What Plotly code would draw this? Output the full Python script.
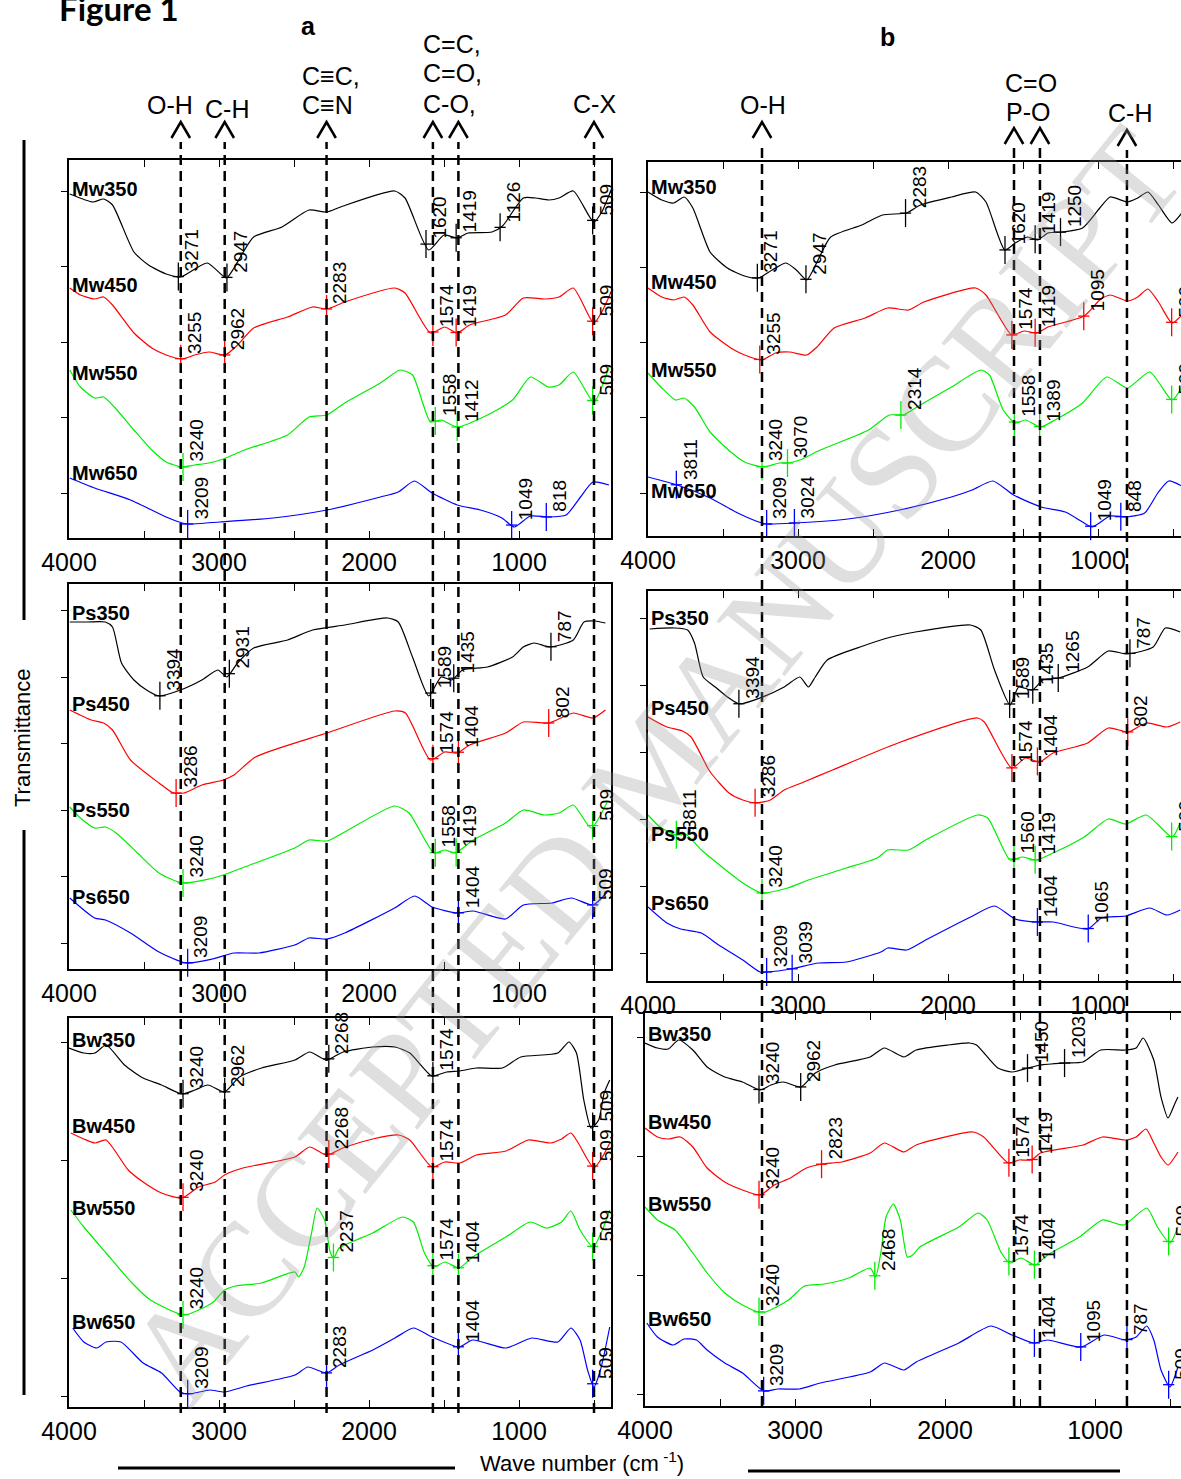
import numpy as np
import plotly.graph_objects as go

# ---------------------------------------------------------------
# FTIR spectra, (wavenumber cm-1, transmittance a.u.) per sample
# panel a
# ---------------------------------------------------------------
A_MW350 = [(3995, 344), (3840, 336), (3769, 339), (3710, 333), (3567, 286), (3470, 273), (3352, 264), (3257, 261),
           (3079, 275), (2950, 260), (2900, 270), (2769, 301), (2580, 311), (2400, 328), (2281, 326), (2190, 331),
           (1829, 347), (1760, 340), (1602, 288), (1500, 303), (1412, 300), (1340, 305), (1180, 306), (1110, 312),
           (971, 340), (890, 340), (800, 338), (733, 340), (638, 347), (502, 316), (448, 326), (381, 350)]
A_MW450 = [(3995, 250), (3924, 243), (3829, 239), (3769, 241), (3710, 233), (3567, 205), (3448, 190), (3352, 183),
           (3245, 179), (3162, 183), (3067, 186), (2960, 183), (2876, 193), (2769, 210), (2543, 221), (2376, 231),
           (2281, 229), (2162, 236), (1829, 250), (1760, 245), (1590, 205), (1495, 211), (1412, 205), (1329, 213),
           (1090, 223), (971, 240), (829, 239), (733, 241), (638, 250), (502, 215), (448, 226), (381, 248)]
A_MW550 = [(3995, 168), (3924, 151), (3829, 140), (3769, 141), (3698, 131), (3567, 108), (3448, 88), (3352, 76),
           (3245, 71), (3162, 73), (3067, 75), (2971, 79), (2829, 88), (2543, 103), (2400, 121), (2281, 123),
           (2162, 135), (1924, 155), (1793, 168), (1710, 163), (1590, 116), (1519, 118), (1412, 111), (1210, 123),
           (1043, 138), (924, 161), (805, 151), (733, 153), (638, 166), (502, 136), (400, 171)]
A_MW650 = [(3995, 60), (3829, 50), (3590, 38), (3352, 21), (3245, 15), (3209, 14), (2995, 16), (2638, 20),
           (2281, 28), (1924, 41), (1805, 46), (1698, 57), (1579, 45), (1412, 33), (1257, 28), (1114, 20),
           (1031, 11), (924, 22), (805, 21), (686, 23), (590, 41), (507, 56), (400, 53)]

A_PS350 = [(3995, 347), (3876, 347), (3757, 347), (3710, 342), (3650, 306), (3567, 289), (3483, 279), (3400, 273),
           (3257, 279), (3114, 289), (3007, 299), (2948, 292), (2876, 306), (2769, 321), (2543, 329), (2376, 339),
           (2162, 344), (1876, 351), (1805, 347), (1710, 312), (1602, 273), (1519, 292), (1448, 289), (1376, 299),
           (1210, 302), (1043, 312), (971, 322), (900, 326), (793, 322), (638, 329), (567, 347), (495, 348), (424, 346)]
A_PS450 = [(3995, 259), (3852, 249), (3769, 246), (3710, 239), (3590, 209), (3400, 186), (3305, 176), (3233, 176),
           (3114, 184), (2971, 189), (2900, 194), (2757, 212), (2281, 236), (1829, 258), (1757, 256), (1590, 209),
           (1495, 217), (1412, 216), (1329, 224), (1090, 236), (971, 247), (802, 246), (638, 256), (507, 251), (424, 259)]
A_PS550 = [(3995, 162), (3924, 151), (3829, 141), (3757, 142), (3686, 136), (3543, 116), (3400, 96), (3245, 86),
           (3067, 90), (2971, 94), (2829, 102), (2495, 121), (2400, 129), (2281, 128), (2162, 137), (1829, 163),
           (1733, 156), (1567, 116), (1495, 119), (1424, 116), (1305, 129), (1090, 146), (971, 159), (829, 154),
           (733, 156), (638, 164), (519, 141), (412, 167)]
A_PS650 = [(3995, 71), (3829, 51), (3757, 49), (3590, 36), (3400, 17), (3221, 6), (3043, 10), (2900, 16),
           (2733, 16), (2495, 24), (2400, 31), (2281, 30), (2162, 36), (1829, 61), (1695, 73), (1579, 62),
           (1412, 56), (1305, 58), (1090, 50), (971, 64), (781, 66), (650, 71), (507, 64), (412, 77)]

A_BW350 = [(4000, 359), (3901, 354), (3827, 354), (3753, 362), (3630, 342), (3506, 329), (3383, 322), (3247, 313),
           (3160, 317), (3074, 322), (2963, 315), (2864, 330), (2716, 339), (2494, 347), (2395, 355), (2284, 347),
           (2173, 355), (1975, 360), (1827, 360), (1728, 354), (1580, 331), (1482, 335), (1395, 336), (1284, 339),
           (1111, 339), (988, 350), (741, 354), (667, 365), (617, 354), (568, 307), (519, 279), (469, 287),
           (432, 314), (395, 327)]
A_BW450 = [(3988, 274), (3901, 268), (3827, 264), (3753, 267), (3605, 237), (3506, 225), (3383, 214), (3247, 209),
           (3136, 220), (3025, 225), (2963, 232), (2840, 239), (2494, 250), (2395, 260), (2284, 252), (2173, 259),
           (1975, 268), (1802, 272), (1728, 267), (1580, 240), (1494, 245), (1395, 244), (1284, 252), (1087, 256),
           (938, 267), (790, 264), (716, 268), (654, 274), (605, 264), (501, 239), (444, 250), (395, 264)]
A_BW550 = [(3988, 197), (3901, 180), (3753, 154), (3580, 124), (3457, 107), (3235, 92), (3136, 97), (3037, 105),
           (2963, 117), (2889, 121), (2716, 124), (2494, 135), (2469, 130), (2432, 140), (2383, 174), (2346, 199),
           (2296, 187), (2259, 155), (2235, 149), (2198, 159), (1975, 174), (1778, 190), (1704, 185), (1630, 154),
           (1568, 140), (1494, 145), (1400, 139), (1309, 150), (1087, 170), (926, 185), (815, 179), (716, 185),
           (654, 196), (593, 177), (506, 160), (444, 177), (395, 197)]
A_BW650 = [(3975, 79), (3901, 65), (3815, 59), (3753, 65), (3654, 65), (3506, 44), (3383, 34), (3259, 15),
           (3198, 13), (3062, 17), (2963, 15), (2815, 21), (2494, 32), (2407, 40), (2284, 34), (2198, 42),
           (1975, 57), (1827, 69), (1704, 79), (1580, 70), (1400, 60), (1309, 67), (1087, 59), (914, 69),
           (741, 65), (654, 79), (593, 67), (543, 37), (501, 20), (457, 37), (395, 80)]

# panel b
B_MW350 = [(4000, 344), (3908, 336), (3828, 333), (3759, 339), (3701, 328), (3586, 284), (3471, 268), (3356, 260),
           (3264, 258), (3172, 266), (3080, 273), (3011, 266), (2942, 256), (2873, 274), (2782, 299), (2575, 311),
           (2437, 321), (2276, 323), (2184, 331), (1977, 339), (1816, 344), (1747, 334), (1621, 286), (1552, 293),
           (1471, 299), (1402, 296), (1333, 303), (1241, 304), (1103, 308), (988, 328), (919, 339), (804, 334),
           (735, 338), (667, 344), (597, 331), (506, 313), (441, 323)]
B_MW450 = [(4000, 248), (3908, 239), (3828, 236), (3759, 239), (3701, 231), (3586, 204), (3448, 188), (3356, 181),
           (3241, 176), (3149, 183), (3057, 184), (2942, 181), (2873, 189), (2759, 208), (2552, 218), (2402, 228),
           (2264, 226), (2161, 234), (1816, 248), (1747, 241), (1575, 201), (1494, 205), (1407, 203), (1333, 209),
           (1092, 220), (988, 236), (919, 241), (804, 235), (735, 239), (667, 247), (597, 234), (506, 213), (441, 221)]
B_MW550 = [(4000, 163), (3908, 148), (3816, 136), (3759, 138), (3690, 129), (3586, 104), (3448, 84), (3356, 74),
           (3230, 69), (3126, 73), (3069, 73), (2988, 76), (2851, 86), (2529, 106), (2391, 121), (2299, 121),
           (2207, 129), (1977, 149), (1781, 166), (1724, 161), (1632, 126), (1552, 113), (1483, 116), (1384, 109),
           (1287, 116), (1103, 133), (942, 159), (804, 148), (655, 164), (506, 136), (441, 149)]
B_MW650 = [(4000, 59), (3805, 51), (3586, 38), (3402, 23), (3241, 13), (3207, 12), (3023, 13), (2667, 17),
           (2322, 26), (1977, 39), (1839, 46), (1701, 55), (1563, 41), (1379, 29), (1218, 24), (1103, 14),
           (1039, 9), (919, 20), (809, 19), (689, 23), (597, 44), (528, 55), (441, 50)]

B_PS350 = [(3989, 352), (3828, 353), (3736, 351), (3690, 338), (3632, 304), (3552, 294), (3471, 284), (3391, 277),
           (3253, 283), (3092, 294), (2988, 304), (2931, 294), (2885, 304), (2805, 321), (2586, 334), (2379, 344),
           (2218, 349), (1850, 356), (1781, 351), (1690, 311), (1586, 276), (1529, 294), (1437, 291), (1368, 301),
           (1264, 303), (1069, 314), (931, 330), (804, 327), (632, 334), (551, 353), (452, 349)]
B_PS450 = [(4000, 264), (3874, 254), (3770, 250), (3713, 244), (3598, 212), (3575, 207), (3460, 188), (3368, 181),
           (3276, 178), (3184, 181), (3092, 191), (2977, 198), (2770, 211), (2333, 238), (1804, 263), (1758, 259),
           (1575, 213), (1483, 223), (1391, 219), (1299, 228), (1069, 238), (931, 253), (798, 249), (678, 258),
           (540, 254), (452, 259)]
B_PS550 = [(4000, 166), (3920, 154), (3809, 146), (3759, 148), (3644, 131), (3506, 114), (3368, 98), (3241, 88),
           (3069, 93), (2931, 101), (2678, 113), (2471, 123), (2402, 131), (2264, 131), (2149, 141), (1804, 166),
           (1735, 163), (1586, 121), (1506, 124), (1414, 121), (1299, 128), (1092, 144), (931, 162), (816, 157),
           (678, 166), (506, 144), (452, 158)]
B_PS650 = [(4000, 74), (3874, 58), (3782, 52), (3644, 48), (3529, 36), (3368, 21), (3253, 9), (3207, 9),
           (3046, 12), (2862, 18), (2678, 19), (2448, 29), (2402, 33), (2276, 31), (2149, 41), (1850, 64),
           (1690, 75), (1552, 62), (1402, 59), (1299, 59), (1069, 52), (977, 63), (816, 65), (655, 73),
           (540, 66), (452, 71)]

B_BW350 = [(4000, 363), (3917, 358), (3846, 357), (3775, 366), (3681, 356), (3586, 339), (3468, 329), (3350, 324),
           (3232, 316), (3161, 321), (3078, 324), (2960, 319), (2865, 333), (2735, 341), (2499, 349), (2404, 358),
           (2274, 349), (2192, 356), (1979, 361), (1837, 363), (1790, 361), (1648, 338), (1553, 334), (1447, 338),
           (1364, 341), (1199, 343), (1080, 344), (962, 356), (797, 356), (726, 358), (679, 368), (608, 346),
           (560, 309), (513, 288), (466, 303), (447, 309)]
B_BW450 = [(4000, 278), (3917, 269), (3846, 267), (3764, 269), (3681, 259), (3586, 238), (3468, 224), (3350, 216),
           (3232, 211), (3138, 221), (3031, 228), (2924, 238), (2818, 242), (2688, 244), (2499, 253), (2404, 263),
           (2274, 254), (2192, 261), (1813, 274), (1742, 269), (1577, 243), (1506, 246), (1423, 246), (1364, 253),
           (1080, 261), (950, 269), (797, 266), (726, 269), (660, 277), (608, 263), (560, 249), (513, 241), (447, 254)]
B_BW550 = [(4000, 199), (3917, 186), (3799, 176), (3681, 153), (3586, 133), (3468, 113), (3350, 101), (3220, 93),
           (3043, 106), (2936, 120), (2806, 122), (2641, 128), (2499, 138), (2463, 129), (2428, 153), (2393, 189),
           (2345, 202), (2298, 186), (2251, 149), (2215, 151), (2168, 159), (1908, 179), (1778, 193), (1719, 186),
           (1624, 153), (1565, 143), (1494, 148), (1400, 141), (1317, 151), (1104, 169), (950, 186), (809, 181),
           (655, 198), (584, 179), (501, 163), (447, 179)]
B_BW650 = [(3988, 83), (3917, 69), (3811, 61), (3740, 67), (3657, 66), (3586, 56), (3468, 43), (3350, 33),
           (3208, 15), (3114, 17), (2972, 17), (2830, 23), (2499, 34), (2404, 43), (2274, 36), (2192, 44),
           (1908, 63), (1695, 80), (1553, 71), (1407, 63), (1317, 66), (1092, 59), (939, 71), (797, 66),
           (726, 69), (655, 80), (608, 66), (560, 36), (501, 19), (447, 39)]

# labelled band positions (cm-1) for each spectrum
A_MW350_PK = [3271, 2947, 1620, 1419, 1126, 509]
A_MW450_PK = [3255, 2962, 2283, 1574, 1419, 509]
A_MW550_PK = [3240, 1558, 1412, 509]
A_MW650_PK = [3209, 1049, 818]
A_PS350_PK = [3394, 2931, 1589, 1435, 787]
A_PS450_PK = [3286, 1574, 1404, 802]
A_PS550_PK = [3240, 1558, 1419, 509]
A_PS650_PK = [3209, 1404, 509]
A_BW350_PK = [3240, 2962, 2268, 1574, 509]
A_BW450_PK = [3240, 2268, 1574, 509]
A_BW550_PK = [3240, 2237, 1574, 1404, 509]
A_BW650_PK = [3209, 2283, 1404, 509]
B_MW350_PK = [3271, 2947, 2283, 1620, 1419, 1250]
B_MW450_PK = [3255, 1574, 1419, 1095, 509]
B_MW550_PK = [3240, 3070, 2314, 1558, 1389, 509]
B_MW650_PK = [3811, 3209, 3024, 1049, 848]
B_PS350_PK = [3394, 1589, 1435, 1265, 787]
B_PS450_PK = [3286, 1574, 1404, 802]
B_PS550_PK = [3811, 3240, 1560, 1419, 509]
B_PS650_PK = [3209, 3039, 1404, 1065]
B_BW350_PK = [3240, 2962, 1450, 1203]
B_BW450_PK = [3240, 2823, 1574, 1419]
B_BW550_PK = [3240, 2468, 1574, 1404, 509]
B_BW650_PK = [3209, 1404, 1095, 787, 509]

# functional-group guide lines (cm-1)
A_BANDS = [3255, 2962, 2283, 1574, 1404, 500]
B_BANDS = [3240, 1560, 1387, 807]

X_TICKS = [4000, 3500, 3000, 2500, 2000, 1500, 1000, 500]
X_TICK_TEXT = ["4000", "", "3000", "", "2000", "", "1000", ""]

# ---------------------------------------------------------------
# page geometry (pixels)
# ---------------------------------------------------------------
W, H = 1181, 1479
PX_PER_WN = 0.15
FONT = "Arial, Liberation Sans, sans-serif"
COLORS = ["#000000", "#ff0000", "#00ee00", "#0000ff"]


def px(x):
    return x / W


def py(y):
    return 1 - y / H


PANELS = [
    dict(curves=[("Mw350", A_MW350, A_MW350_PK), ("Mw450", A_MW450, A_MW450_PK),
                 ("Mw550", A_MW550, A_MW550_PK), ("Mw650", A_MW650, A_MW650_PK)],
         box=(69, 611, 160, 538), ytick=(45, 75.5), label_y=[349, 253, 165, 65]),
    dict(curves=[("Ps350", A_PS350, A_PS350_PK), ("Ps450", A_PS450, A_PS450_PK),
                 ("Ps550", A_PS550, A_PS550_PK), ("Ps650", A_PS650, A_PS650_PK)],
         box=(69, 611, 584, 969), ytick=(26, 66.5), label_y=[356, 265, 159, 72]),
    dict(curves=[("Bw350", A_BW350, A_BW350_PK), ("Bw450", A_BW450, A_BW450_PK),
                 ("Bw550", A_BW550, A_BW550_PK), ("Bw650", A_BW650, A_BW650_PK)],
         box=(69, 611, 1018, 1407), ytick=(11, 118), label_y=[367, 281, 199, 85]),
    dict(curves=[("Mw350", B_MW350, B_MW350_PK), ("Mw450", B_MW450, B_MW450_PK),
                 ("Mw550", B_MW550, B_MW550_PK), ("Mw650", B_MW650, B_MW650_PK)],
         box=(648, 1181, 162, 536), ytick=(43, 75.2), label_y=[349, 254, 166, 45]),
    dict(curves=[("Ps350", B_PS350, B_PS350_PK), ("Ps450", B_PS450, B_PS450_PK),
                 ("Ps550", B_PS550, B_PS550_PK), ("Ps650", B_PS650, B_PS650_PK)],
         box=(648, 1181, 591, 981), ytick=(28, 67), label_y=[363, 273, 147, 78]),
    dict(curves=[("Bw350", B_BW350, B_BW350_PK), ("Bw450", B_BW450, B_BW450_PK),
                 ("Bw550", B_BW550, B_BW550_PK), ("Bw650", B_BW650, B_BW650_PK)],
         box=(645, 1181, 1013, 1406), ytick=(12, 118.7), label_y=[372, 284, 202, 87]),
]

fig = go.Figure()
annotations = []
shapes = []
axes = {}

# watermark sits beneath every other label
annotations.append(dict(
    text="ACCEPTED MANUSCRIPT", x=px(655), y=py(765), xref="paper", yref="paper",
    textangle=-51, showarrow=False, xanchor="center", yanchor="middle",
    font=dict(family="Liberation Serif, Times New Roman, serif", size=134, color="rgba(150,150,150,0.30)")))

for i, panel in enumerate(PANELS, start=1):
    x0, x1, top, bottom = panel["box"]
    sfx = "" if i == 1 else str(i)
    xname, yname = "x" + sfx, "y" + sfx
    wn_end = 4000 - (x1 - x0) / PX_PER_WN
    axes["xaxis" + sfx] = dict(
        domain=[px(x0), px(x1)], range=[4000, wn_end], anchor=yname, automargin=False,
        tickmode="array", tickvals=X_TICKS, ticktext=X_TICK_TEXT,
        ticks="inside", ticklen=7, tickwidth=1, tickcolor="black", mirror="allticks",
        showline=True, linecolor="black", linewidth=1.5, showgrid=False, zeroline=False,
        ticklabelstandoff=1, tickfont=dict(family=FONT, size=25, color="black"))
    axes["yaxis" + sfx] = dict(
        domain=[py(bottom), py(top)], range=[0, bottom - top], anchor=xname, automargin=False,
        tickmode="linear", tick0=panel["ytick"][0], dtick=panel["ytick"][1],
        ticks="outside", ticklen=6, tickcolor="black", showticklabels=False,
        showline=True, mirror=True, linecolor="black", linewidth=1.5,
        showgrid=False, zeroline=False)

    for k, (name, pts, peaks) in enumerate(panel["curves"]):
        wn = np.array([p[0] for p in pts], dtype=float)
        tr = np.array([p[1] for p in pts], dtype=float)
        color = COLORS[k]
        fig.add_trace(go.Scatter(x=wn, y=tr, mode="lines",
                                 line=dict(color=color, width=1.2, shape="spline", smoothing=0.6),
                                 xaxis=xname, yaxis=yname, showlegend=False, hoverinfo="skip"))
        # band markers sit on the spectrum at the labelled wavenumber
        tp = np.interp(peaks, wn[::-1], tr[::-1])
        for sym, size in (("line-ns", 20), ("line-ew", 8)):
            fig.add_trace(go.Scatter(x=peaks, y=tp, mode="markers", cliponaxis=False,
                                     marker=dict(symbol=sym, size=size, color=color,
                                                 line=dict(color=color, width=1.3)),
                                     xaxis=xname, yaxis=yname, showlegend=False, hoverinfo="skip"))
        for p, v in zip(peaks, tp):
            annotations.append(dict(
                x=p, y=v, xref=xname, yref=yname, text=str(p), textangle=-90,
                xanchor="left", yanchor="bottom", xshift=1, yshift=3, showarrow=False,
                font=dict(family=FONT, size=19, color="black")))
        annotations.append(dict(
            x=4000, y=panel["label_y"][k], xref=xname, yref=yname, text=f"<b>{name}</b>",
            xanchor="left", yanchor="middle", xshift=1, showarrow=False,
            font=dict(family=FONT, size=20, color="black")))

# dashed guide lines with open arrowheads
DASH = dict(color="black", width=2.5, dash="10px,6px")
for wn in A_BANDS:
    shapes.append(dict(type="line", xref="x", yref="paper", x0=wn, x1=wn, y0=py(1413), y1=py(142),
                       line=DASH, layer="above"))
    shapes.append(dict(type="path", xref="x", yref="paper",
                       path=f"M {wn + 62},{py(138)} L {wn},{py(122)} L {wn - 62},{py(138)}",
                       line=dict(color="black", width=2.5)))
for wn, tip in zip(B_BANDS, [122, 128, 128, 130]):
    shapes.append(dict(type="line", xref="x4", yref="paper", x0=wn, x1=wn, y0=py(1406), y1=py(tip + 20),
                       line=DASH, layer="above"))
    shapes.append(dict(type="path", xref="x4", yref="paper",
                       path=f"M {wn + 62},{py(tip + 16)} L {wn},{py(tip)} L {wn - 62},{py(tip + 16)}",
                       line=dict(color="black", width=2.5)))

# frame lines beside the axis titles
LINE = dict(color="black", width=3)
shapes += [
    dict(type="line", xref="paper", yref="paper", x0=px(24), x1=px(24), y0=py(140), y1=py(620), line=LINE),
    dict(type="line", xref="paper", yref="paper", x0=px(24), x1=px(24), y0=py(830), y1=py(1395), line=LINE),
    dict(type="line", xref="paper", yref="paper", x0=px(118), x1=px(455), y0=py(1468), y1=py(1468), line=LINE),
    dict(type="line", xref="paper", yref="paper", x0=px(748), x1=px(1120), y0=py(1471), y1=py(1471), line=LINE),
]


def page_text(text, x, y, size=25, bold=False, anchor="center", angle=0, family=FONT):
    annotations.append(dict(
        text=f"<b>{text}</b>" if bold else text, x=px(x), y=py(y), xref="paper", yref="paper",
        xanchor=anchor, yanchor="middle", showarrow=False, textangle=angle,
        font=dict(family=family, size=size, color="black")))


page_text("Figure 1", 57, 8, size=33, bold=True, anchor="left", family="Lato, Open Sans, sans-serif")
page_text("a", 308, 26, bold=True)
page_text("b", 887, 37, bold=True)
page_text("O-H", 170, 105)
page_text("C-H", 227, 109)
page_text("C≡C,", 300, 76, anchor="left")
page_text("C≡N", 300, 105, anchor="left")
page_text("C=C,", 421, 44, anchor="left")
page_text("C=O,", 421, 73, anchor="left")
page_text("C-O,", 421, 104, anchor="left")
page_text("C-X", 595, 104)
page_text("O-H", 763, 105)
page_text("C=O", 1031, 83)
page_text("P-O", 1028, 112)
page_text("C-H", 1130, 113)
page_text("Transmittance", 22, 738, size=22, angle=-90)
page_text("Wave number (cm<sup> -1</sup>)", 478, 1462, size=22, anchor="left")

fig.update_layout(
    width=W, height=H, autosize=False,
    margin=dict(l=0, r=0, t=0, b=0, autoexpand=False),
    paper_bgcolor="white", plot_bgcolor="white",
    showlegend=False, annotations=annotations, shapes=shapes,
    **axes)

fig.write_html("out.html")
